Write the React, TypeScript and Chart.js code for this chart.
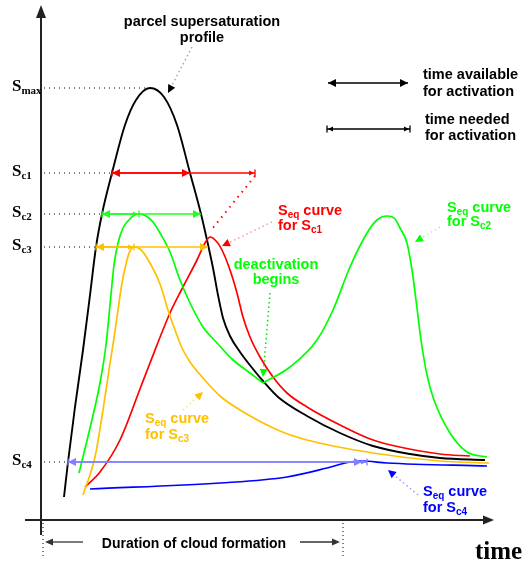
import React, { useEffect, useRef } from "react";
import { Chart, registerables } from "chart.js";
Chart.register(...registerables);

// ---- data (time t, supersaturation S in arbitrary units) ----
const parcelT = [4.6, 5.4, 6.8, 8.4, 9.8, 11, 12.2, 14.2, 16.8, 19, 21.8, 24.6, 27.2, 29.8, 32, 33.2, 34.4, 35.4, 36.4, 37.8, 39.8, 42.4, 44.4, 47.4, 53.2, 59.8, 66.4, 73.8, 79.8, 88.8];
const parcelS = [4.6, 11.6, 22.6, 34, 45, 54.6, 61.2, 69.4, 79, 84, 86.4, 84.6, 79, 69.4, 61.2, 56, 50.4, 45, 40.4, 36.8, 33.6, 30.2, 27.8, 24.6, 20.8, 17.4, 14.8, 13.2, 12.4, 12];

const seqC1T = [8.8, 11.8, 15.8, 19.8, 21.8, 25.8, 28.4, 31.2, 32.8, 33.8, 35.2, 36.2, 37.8, 39.2, 40.4, 41.8, 43.8, 46.4, 49.2, 53.2, 59.8, 66.4, 79.8, 85.8];
const seqC1S = [6.6, 9.6, 16, 26.2, 31.4, 41.4, 46.6, 52, 55.4, 56.6, 55.6, 54, 50, 45.4, 40.6, 36.6, 32.6, 28.6, 25.4, 22.6, 19, 16, 13.2, 12.8];

// S_c2 curve: before and after deactivation
const seqC2aT = [7.6, 9.8, 11.8, 13, 13.8, 14.6, 15.4, 16.4, 17.4, 18.4, 19.6, 21, 22.4, 23.8, 25.8, 27.8, 29.8, 32.4, 35.2, 38.4, 41.8, 44.4];
const seqC2aS = [9.4, 18.4, 27.4, 35, 43, 51, 55.4, 58.4, 59.8, 60.8, 61.2, 60.8, 59.6, 57.4, 53.6, 48, 43.4, 38.6, 35.4, 32, 29.4, 27.4];
const seqC2bT = [44.4, 49.8, 55.2, 58.4, 61.8, 65.2, 67.2, 69.2, 70.8, 71.8, 73.2, 74.2, 75, 76, 77.2, 78.6, 81.8, 85.2, 89.2];
const seqC2bS = [27.4, 30.6, 36, 42, 50.6, 57.4, 60, 60.8, 60.2, 58.4, 55.4, 50, 44, 36, 29, 24, 17.4, 13.6, 12.6];

const seqC3T = [8.4, 10.8, 12.4, 13.6, 14.6, 15.4, 16.2, 17.2, 17.8, 18.6, 19.8, 21.2, 23.8, 25.4, 26.8, 28.2, 29.8, 32.4, 35.8, 39.8, 47.8, 53.2, 66.4, 79.8, 89.6];
const seqC3S = [5, 12.6, 22, 30, 36.4, 42, 47.4, 52, 53.8, 54.6, 54.2, 52.4, 47.2, 42, 38, 34.4, 31.6, 28.4, 24.8, 22, 17.8, 16, 13.4, 11.8, 11.4];

const seqC4T = [9.8, 35.8, 49.2, 57.2, 61.8, 64.2, 69.2, 89.2];
const seqC4S = [6.2, 7.4, 8.6, 10.4, 11.6, 11.8, 11.4, 10.8];

// critical supersaturation levels
const levelSubs = ["max", "c1", "c2", "c3", "c4"];
const levelS = [86.4, 69.4, 61.2, 54.6, 11.6];
const levelStartT = [21.8, 14.2, 12.2, 11, 5.4];
const availableEndT = [null, 29.8, 32, 33.4, 64.2];
const neededEndT = [null, 42.8, 19.6, 18.6, 65.2];
const levelColors = ["#000000", "#ff0000", "#22ff22", "#ffc000", "#8080ff"];

const zip = (a: number[], b: number[]) => a.map((x, i) => ({ x, y: b[i] }));

const SANS = '"Liberation Sans", Arial, sans-serif';
const SERIF = '"Liberation Serif", "Times New Roman", serif';

type Part = { t: string; sub?: boolean };

function drawRich(ctx: CanvasRenderingContext2D, parts: Part[], x: number, y: number, align: string, color: string, size: number, family = SANS, subSize?: number, subDy?: number) {
  const ss = subSize ?? Math.round(size * 0.7);
  const dy = subDy ?? size * 0.3;
  const mainFont = `bold ${size}px ${family}`;
  const subFont = `bold ${ss}px ${family}`;
  let total = 0;
  const widths = parts.map((p) => {
    ctx.font = p.sub ? subFont : mainFont;
    const w = ctx.measureText(p.t).width;
    total += w;
    return w;
  });
  let cx = align === "center" ? x - total / 2 : align === "right" ? x - total : x;
  ctx.fillStyle = color;
  ctx.textBaseline = "middle";
  ctx.textAlign = "left";
  parts.forEach((p, i) => {
    ctx.font = p.sub ? subFont : mainFont;
    ctx.fillText(p.t, cx, y + (p.sub ? dy : 0));
    cx += widths[i];
  });
}

function head(ctx: CanvasRenderingContext2D, x: number, y: number, ang: number, len: number, hw: number, color: string) {
  ctx.save();
  ctx.translate(x, y);
  ctx.rotate(ang);
  ctx.beginPath();
  ctx.moveTo(0, 0);
  ctx.lineTo(-len, -hw);
  ctx.lineTo(-len, hw);
  ctx.closePath();
  ctx.fillStyle = color;
  ctx.fill();
  ctx.restore();
}

function line(ctx: CanvasRenderingContext2D, x1: number, y1: number, x2: number, y2: number, color: string, w: number, dash: number[] = []) {
  ctx.save();
  ctx.beginPath();
  ctx.setLineDash(dash);
  ctx.strokeStyle = color;
  ctx.lineWidth = w;
  ctx.moveTo(x1, y1);
  ctx.lineTo(x2, y2);
  ctx.stroke();
  ctx.restore();
}

function availableArrow(ctx: CanvasRenderingContext2D, x1: number, x2: number, y: number, color: string) {
  line(ctx, x1, y, x2, y, color, 1.5);
  head(ctx, x1, y, Math.PI, 8, 4, color);
  head(ctx, x2, y, 0, 8, 4, color);
}

function neededArrow(ctx: CanvasRenderingContext2D, x1: number, x2: number, y: number, color: string) {
  line(ctx, x1, y, x2, y, color, 1.3);
  head(ctx, x1 + 1, y, Math.PI, 5, 2.5, color);
  head(ctx, x2 - 1, y, 0, 5, 2.5, color);
  line(ctx, x1, y - 3.5, x1, y + 3.5, color, 1.3);
  line(ctx, x2, y - 3.5, x2, y + 3.5, color, 1.3);
}

const overlay = {
  id: "overlay",
  afterDatasetsDraw(chart: any) {
    const ctx: CanvasRenderingContext2D = chart.ctx;
    const X = (t: number) => chart.scales.x.getPixelForValue(t);
    const Y = (s: number) => chart.scales.y.getPixelForValue(s);
    ctx.save();

    // axes
    const axisColor = "#222";
    line(ctx, X(0), Y(-3), X(0), Y(100.8), axisColor, 2);
    head(ctx, X(0), Y(103), -Math.PI / 2, 13, 5, axisColor);
    line(ctx, X(-3.2), Y(0), X(88.6), Y(0), axisColor, 2);
    head(ctx, X(90.6), Y(0), 0, 11, 4.5, axisColor);

    // level labels & lines
    levelS.forEach((s, i) => {
      const y = Y(s);
      line(ctx, X(0.6), y, X(levelStartT[i]), y, "#000", 1, [1, 4]);
      drawRich(ctx, [{ t: "S" }, { t: levelSubs[i], sub: true }], X(-5.8), y - 1, "left", "#000", 17, SERIF, 11, 4);
      const c = levelColors[i];
      const ae = availableEndT[i];
      const ne = neededEndT[i];
      if (ne != null) neededArrow(ctx, X(levelStartT[i]), X(ne), y, c);
      if (ae != null) availableArrow(ctx, X(levelStartT[i]), X(ae), y, c);
    });

    // red dotted continuation
    line(ctx, X(42.8), Y(68.8), X(34.2), Y(58.2), "#ff0000", 2, [1.5, 5]);

    // pointers
    const pointers = [
      { f: [30.2, 94.6], to: [25.4, 85.4], dot: "#aaaaaa", hc: "#000" },
      { f: [46.2, 59.6], to: [36.2, 54.8], dot: "#ff9999", hc: "#ff0000" },
      { f: [45.8, 45.4], to: [44.4, 28.6], dot: "#00e000", hc: "#00ff00" },
      { f: [79.8, 58.6], to: [74.8, 55.6], dot: "#99ff99", hc: "#00ff00" },
      { f: [28.4, 22], to: [32.4, 25.6], dot: "#ffd966", hc: "#ffc000" },
      { f: [75.4, 5], to: [69.4, 10], dot: "#9999ff", hc: "#0000ff" },
    ];
    pointers.forEach((p) => {
      const x1 = X(p.f[0]), y1 = Y(p.f[1]), x2 = X(p.to[0]), y2 = Y(p.to[1]);
      const ang = Math.atan2(y2 - y1, x2 - x1);
      line(ctx, x1, y1, x2 - Math.cos(ang) * 6, y2 - Math.sin(ang) * 6, p.dot, 1.5, [1.5, 3]);
      head(ctx, x2, y2, ang, 8, 4, p.hc);
    });

    // texts
    const FS = 14.5;
    drawRich(ctx, [{ t: "parcel supersaturation" }], X(32.2), Y(99.6), "center", "#000", FS);
    drawRich(ctx, [{ t: "profile" }], X(32.2), Y(96.4), "center", "#000", FS);

    availableArrow(ctx, X(57.4), X(73.4), Y(87.4), "#000");
    neededArrow(ctx, X(57.2), X(73.8), Y(78.2), "#000");
    drawRich(ctx, [{ t: "time available" }], X(76.4), Y(89), "left", "#000", FS);
    drawRich(ctx, [{ t: "for activation" }], X(76.4), Y(85.6), "left", "#000", FS);
    drawRich(ctx, [{ t: "time needed" }], X(76.8), Y(80), "left", "#000", FS);
    drawRich(ctx, [{ t: "for activation" }], X(76.8), Y(76.8), "left", "#000", FS);

    const seqLabel = (t: number, s1: number, s2: number, sub: string, color: string) => {
      drawRich(ctx, [{ t: "S" }, { t: "eq", sub: true }, { t: " curve" }], X(t), Y(s1), "left", color, FS);
      drawRich(ctx, [{ t: "for S" }, { t: sub, sub: true }], X(t), Y(s2), "left", color, FS);
    };
    seqLabel(47.4, 61.8, 58.8, "c1", "#ff0000");
    seqLabel(81.2, 62.4, 59.6, "c2", "#00ff00");
    seqLabel(20.8, 20.2, 17, "c3", "#ffc000");
    seqLabel(76.4, 5.6, 2.4, "c4", "#0000ff");

    drawRich(ctx, [{ t: "deactivation" }], X(47), Y(51), "center", "#00ff00", FS);
    drawRich(ctx, [{ t: "begins" }], X(47), Y(48), "center", "#00ff00", FS);

    // duration
    line(ctx, X(0.4), Y(-0.6), X(0.4), Y(-7.8), "#000", 1, [1, 3]);
    line(ctx, X(60.4), Y(-0.6), X(60.4), Y(-7.8), "#000", 1, [1, 3]);
    line(ctx, X(8.4), Y(-4.4), X(2), Y(-4.4), "#333", 1.3);
    head(ctx, X(0.8), Y(-4.4), Math.PI, 8, 3.5, "#333");
    line(ctx, X(51.8), Y(-4.4), X(58.6), Y(-4.4), "#333", 1.3);
    head(ctx, X(59.8), Y(-4.4), 0, 8, 3.5, "#333");
    drawRich(ctx, [{ t: "Duration of cloud formation" }], X(30.6), Y(-4.8), "center", "#000", 14);

    ctx.font = `bold 25px ${SERIF}`;
    ctx.fillStyle = "#000";
    ctx.textBaseline = "alphabetic";
    ctx.textAlign = "left";
    ctx.fillText("time", X(86.8), Y(-7.8));

    ctx.restore();
  },
};

export default function App() {
  const ref = useRef<HTMLCanvasElement>(null);
  useEffect(() => {
    if (!ref.current) return;
    const ds = (data: any, color: string, w = 1.7) => ({
      data,
      borderColor: color,
      borderWidth: w,
      pointRadius: 0,
      fill: false,
      cubicInterpolationMode: "monotone" as const,
    });
    const chart = new Chart(ref.current, {
      type: "line",
      data: {
        datasets: [
          ds(zip(seqC4T, seqC4S), "#0000ff"),
          ds(zip(seqC3T, seqC3S), "#ffc000"),
          ds(zip(seqC2aT, seqC2aS), "#00ff00"),
          ds(zip(seqC2bT, seqC2bS), "#00ff00"),
          ds(zip(seqC1T, seqC1S), "#ff0000"),
          ds(zip(parcelT, parcelS), "#000000", 1.9),
        ],
      },
      options: {
        responsive: false,
        maintainAspectRatio: false,
        animation: false,
        layout: { padding: 0 },
        plugins: { legend: { display: false }, tooltip: { enabled: false } },
        scales: {
          x: { type: "linear", display: false, min: -8.2, max: 97.4 },
          y: { type: "linear", display: false, min: -8.4, max: 104 },
        },
      },
      plugins: [overlay],
    });
    return () => chart.destroy();
  }, []);
  return (
    <div style={{ position: "absolute", left: 0, top: 0, width: 528, height: 562, background: "#fff" }}>
      <canvas ref={ref} width={528} height={562} style={{ display: "block" }} />
    </div>
  );
}
